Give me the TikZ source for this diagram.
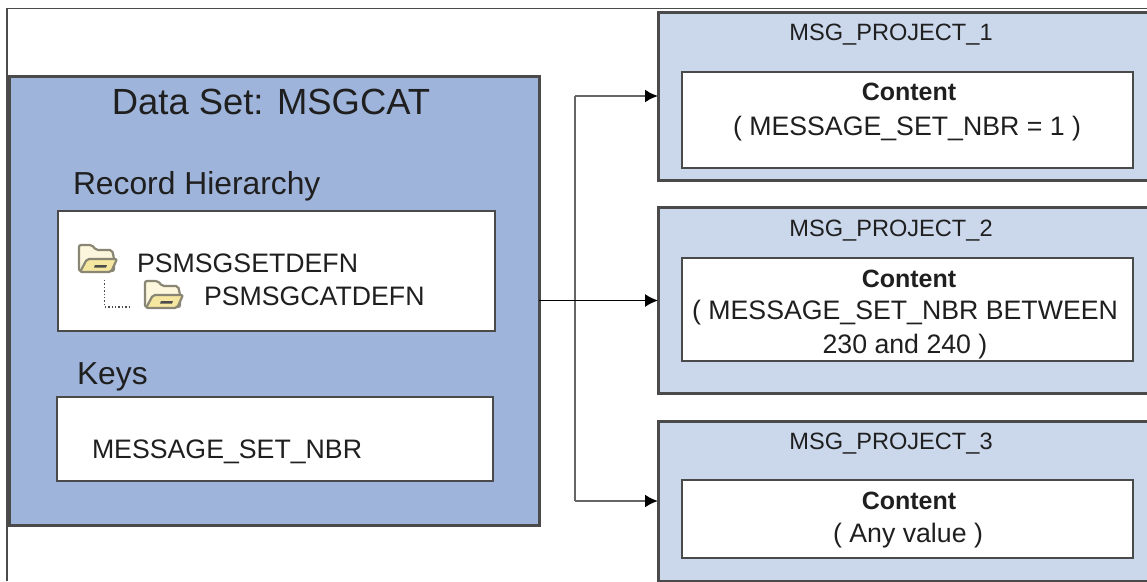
\documentclass[tikz,border=0pt]{standalone}
\usepackage{fontspec}
\setmainfont{Liberation Sans}
\usetikzlibrary{arrows.meta}
\definecolor{lineC}{HTML}{4A4A4A}
\definecolor{mainC}{HTML}{9FB4DA}
\definecolor{lightC}{HTML}{CBD7EB}
\definecolor{folderA}{HTML}{FBF6DC}
\definecolor{folderB}{HTML}{F5E6A0}
\definecolor{folderL}{HTML}{8A8674}
\newcommand{\fsz}[1]{\fontsize{#1}{#1}\selectfont}
\newcommand{\folder}[2]{%
  \begin{scope}[shift={(#1,#2)}]
    \fill[folderA,draw=folderL,line width=2.2pt,rounded corners=2pt] (1,27)--(1,1)--(14,1)--(18,6)--(34,6)--(36,14)--(36,27)--cycle;
    \fill[folderB,draw=folderL,line width=2.2pt,rounded corners=2pt] (2,28)--(9,15)--(39,15)--(33,28)--cycle;
    \fill[black!70] (17,21)--(29,21)--(28,23.5)--(16,23.5)--cycle;
  \end{scope}}
\tikzset{
  x=1pt,y=-1pt,
  box/.style={draw=lineC,line width=3pt,inner sep=0pt,outer sep=0pt,anchor=north west},
  mainbox/.style={box,fill=mainC},
  projbox/.style={box,fill=lightC},
  whitebox/.style={box,fill=white,line width=2.8pt},
  txt/.style={inner sep=0pt,outer sep=0pt,text=black!88},
  arr/.style={draw=black!60,line width=2.2pt,-{Latex[length=13pt,width=13pt,black]}},
  arrmid/.style={draw=black,line width=1.5pt,-{Latex[length=13pt,width=13pt,black]}},
  plainline/.style={draw=black!60,line width=2.2pt},
  frameline/.style={draw=black!70,line width=1.2pt},
}
\begin{document}
\begin{tikzpicture}
\useasboundingbox (0,0) rectangle (1147,581);
\clip (0,0) rectangle (1147,581);
\fill[white] (0,0) rectangle (1147,581);
\coordinate (f1) at (7,581);
\coordinate (f2) at (7,8.5);
\coordinate (f3) at (1147,8.5);
\draw[frameline] (f1) -- (f2) -- (f3);
% left
\node[mainbox,minimum width=530pt,minimum height=449pt] (main) at (9,76) {};
\node[whitebox,minimum width=437pt,minimum height=120pt] (rec) at (58,211) {};
\node[whitebox,minimum width=436pt,minimum height=84pt] (keys) at (57,397) {};
\node[txt,font=\fsz{36.4}] (t1) at (271,102) {Data Set: MSGCAT};
\node[txt,font=\fsz{31.8},anchor=west] (t2) at (73,186) {Record Hierarchy};
\node[txt,font=\fsz{31.8},anchor=west] (t3) at (77,377) {Keys};
\node[txt,font=\fsz{26.7},anchor=west] (t4) at (137,263) {PSMSGSETDEFN};
\node[txt,font=\fsz{26.7},anchor=west] (t5) at (204,296) {PSMSGCATDEFN};
\node[txt,font=\fsz{26.7},anchor=west] (t6) at (92,452) {MESSAGE\_SET\_NBR};
\folder{78}{244}
\folder{144}{280}
\coordinate (d1) at (104.5,280);
\coordinate (d2) at (104.5,307);
\coordinate (d3) at (131,307);
\draw[black!70,line width=1.4pt,dotted] (d1) -- (d2) -- (d3);
% right
\node[projbox,minimum width=520pt,minimum height=168pt] (p1) at (658,12) {};
\node[projbox,minimum width=520pt,minimum height=186pt] (p2) at (658,207) {};
\node[projbox,minimum width=520pt,minimum height=160pt] (p3) at (658,421) {};
\node[whitebox,minimum width=451pt,minimum height=96pt] (c1) at (682,72) {};
\node[whitebox,minimum width=451pt,minimum height=103pt] (c2) at (682,258) {};
\node[whitebox,minimum width=451pt,minimum height=78pt] (c3) at (682,480) {};
\node[txt,font=\fsz{23.6}] (n1) at (891,34.5) {MSG\_PROJECT\_1};
\node[txt,font=\fsz{23.6}] (n2) at (891,230.5) {MSG\_PROJECT\_2};
\node[txt,font=\fsz{23.6}] (n3) at (891,443.5) {MSG\_PROJECT\_3};
\node[txt,font=\fsz{25}\bfseries] (h1) at (909,92) {Content};
\node[txt,font=\fsz{26.7}] (b1) at (907,129) {( MESSAGE\_SET\_NBR = 1 )};
\node[txt,font=\fsz{25}\bfseries] (h2) at (909,279) {Content};
\node[txt,font=\fsz{26.7}] (b2) at (905,313) {( MESSAGE\_SET\_NBR BETWEEN};
\node[txt,font=\fsz{26.7}] (b2b) at (905,347) {230 and 240 )};
\node[txt,font=\fsz{25}\bfseries] (h3) at (909,501) {Content};
\node[txt,font=\fsz{26.7}] (b3) at (908,536) {( Any value )};
% connectors
\coordinate (j) at (575,300.5);
\draw[plainline] (j) -- (j |- p1.west);
\draw[arr] (j |- p1.west) -- (p1.west);
\draw[plainline] (j) -- (j |- p3.west);
\draw[arr] (j |- p3.west) -- (p3.west);
\draw[arrmid] (main.east) -- (p2.west |- main.east);
\end{tikzpicture}
\end{document}
